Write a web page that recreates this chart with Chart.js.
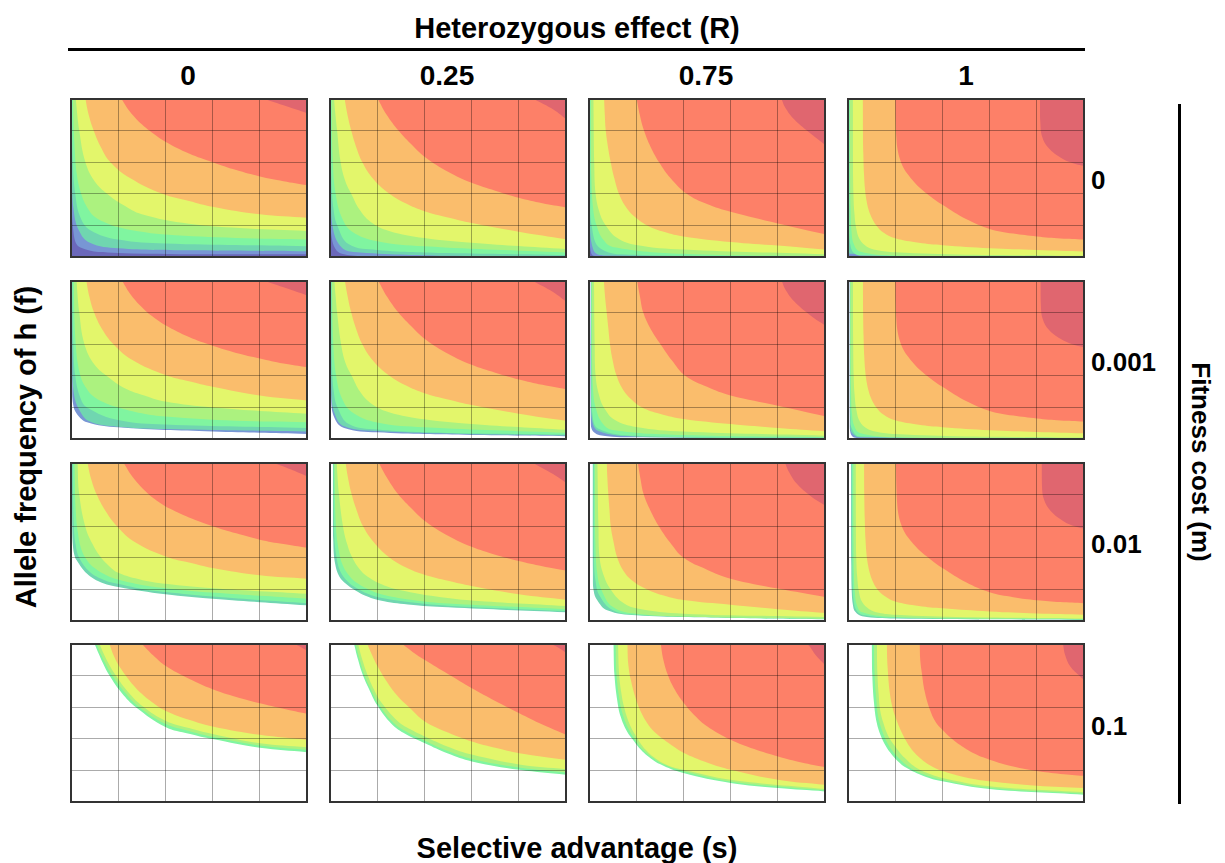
<!DOCTYPE html>
<html>
<head>
<meta charset="utf-8">
<script src="https://cdn.jsdelivr.net/npm/chart.js@4.4.1/dist/chart.umd.min.js"></script>
<style>
  html, body { margin: 0; padding: 0; background: #fff; }
  body { width: 1225px; height: 863px; position: relative; overflow: hidden;
         font-family: "Liberation Sans", Arial, sans-serif; font-weight: bold; color: #000; }
  .txt { position: absolute; white-space: nowrap; line-height: 1; transform: translate(-50%, -50%); }
  .rowlbl { position: absolute; font-size: 26px; white-space: nowrap; line-height: 1; transform: translateY(-50%); }
  .rule { position: absolute; background: #000; }
  canvas { position: absolute; }
</style>
</head>
<body>
<div class="txt" style="left:577px; top:28px; font-size:29px;">Heterozygous effect (R)</div>
<div class="rule" style="left:68px; top:48px; width:1017px; height:3px;"></div>
<div class="rule" style="left:1178px; top:104px; width:3px; height:700px;"></div>
<div class="txt" style="left:26px; top:447px; font-size:29px; transform: translate(-50%, -50%) rotate(-90deg);">Allele frequency of h (f)</div>
<div class="txt" style="left:1201px; top:462px; font-size:26px; transform: translate(-50%, -50%) rotate(90deg);">Fitness cost (m)</div>
<div class="txt" style="left:577px; top:848px; font-size:29px;">Selective advantage (s)</div>
<script>
// column / row labels
const R_LABELS = ["0", "0.25", "0.75", "1"];
const M_LABELS = ["0", "0.001", "0.01", "0.1"];
const GRID_TICKS = [0, 0.2, 0.4, 0.6, 0.8, 1];

// band colours, innermost (top right) to outermost
const BAND_COLORS = ["#e0666f", "#fd8068", "#fabd6c", "#e3f66b", "#acf27f", "#80f5a0", "#70d6b0", "#7896d4", "#6b68ba"];

// lower boundary of each band, [s, f] points
// m = 0
const m0_R0 = [
  [[0.82, 1], [0.91, 0.955], [1, 0.91]],
  [[0.214, 1], [0.25, 0.92], [0.3, 0.84], [0.35, 0.78], [0.4, 0.73], [0.5, 0.655], [0.6, 0.6], [0.7, 0.55], [0.8, 0.51], [0.9, 0.48], [1, 0.455]],
  [[0.061, 1], [0.075, 0.9], [0.096, 0.8], [0.125, 0.7], [0.167, 0.6], [0.25, 0.5], [0.387, 0.4], [0.5, 0.355], [0.6, 0.318], [0.8, 0.27], [1, 0.248]],
  [[0.02, 1], [0.035, 0.8], [0.061, 0.6], [0.1, 0.48], [0.153, 0.4], [0.22, 0.33], [0.3, 0.27], [0.5, 0.21], [0.75, 0.18], [1, 0.165]],
  [[0.008, 1], [0.015, 0.7], [0.025, 0.52], [0.043, 0.4], [0.07, 0.31], [0.1, 0.255], [0.15, 0.215], [0.196, 0.19], [0.3, 0.16], [0.4, 0.142], [0.7, 0.12], [1, 0.11]],
  [[0.003, 1], [0.008, 0.6], [0.018, 0.4], [0.04, 0.25], [0.082, 0.17], [0.2, 0.11], [0.4, 0.085], [1, 0.068]],
  [[0.001, 1], [0.004, 0.5], [0.011, 0.3], [0.033, 0.17], [0.08, 0.09], [0.2, 0.055], [0.5, 0.042], [1, 0.036]],
  [[0.0005, 1], [0.002, 0.5], [0.011, 0.15], [0.04, 0.06], [0.2, 0.026], [1, 0.017]],
  [[0, 0], [1, 0]]
];
const m0_R025 = [
  [[0.863, 1], [0.948, 0.932], [1, 0.873]],
  [[0.203, 1], [0.24, 0.9], [0.29, 0.8], [0.34, 0.72], [0.405, 0.63], [0.5, 0.54], [0.6, 0.47], [0.7, 0.42], [0.8, 0.375], [0.9, 0.34], [1, 0.314]],
  [[0.062, 1], [0.074, 0.9], [0.09, 0.8], [0.11, 0.7], [0.137, 0.6], [0.18, 0.5], [0.243, 0.41], [0.32, 0.34], [0.4, 0.29], [0.5, 0.25], [0.6, 0.215], [0.8, 0.16], [1, 0.112]],
  [[0.017, 1], [0.023, 0.9], [0.03, 0.8], [0.045, 0.6], [0.065, 0.48], [0.09, 0.4], [0.125, 0.3], [0.17, 0.225], [0.25, 0.165], [0.4, 0.12], [0.6, 0.09], [1, 0.05]],
  [[0.006, 1], [0.012, 0.6], [0.024, 0.4], [0.05, 0.25], [0.094, 0.16], [0.2, 0.1], [0.4, 0.068], [1, 0.028]],
  [[0.002, 1], [0.006, 0.5], [0.015, 0.3], [0.031, 0.2], [0.08, 0.08], [0.2, 0.045], [0.5, 0.025], [1, 0.012]],
  [[0.001, 1], [0.004, 0.4], [0.014, 0.17], [0.05, 0.06], [0.1, 0.032], [0.5, 0.008], [1, 0.004]],
  [[0.0005, 1], [0.003, 0.3], [0.01, 0.1], [0.05, 0.02], [0.2, 0.006], [1, 0.002]],
  [[0, 0], [1, 0]]
];
const m0_R075 = [
  [[0.816, 1], [0.83, 0.95], [0.87, 0.87], [0.94, 0.78], [1, 0.71]],
  [[0.202, 1], [0.215, 0.9], [0.233, 0.8], [0.26, 0.7], [0.297, 0.6], [0.345, 0.5], [0.414, 0.4], [0.5, 0.335], [0.6, 0.286], [0.8, 0.212], [1, 0.144]],
  [[0.064, 1], [0.067, 0.9], [0.071, 0.8], [0.08, 0.7], [0.092, 0.6], [0.107, 0.5], [0.127, 0.4], [0.155, 0.32], [0.19, 0.26], [0.247, 0.2], [0.32, 0.158], [0.4, 0.13], [0.6, 0.095], [0.8, 0.072], [1, 0.047]],
  [[0.018, 1], [0.022, 0.6], [0.028, 0.4], [0.045, 0.28], [0.071, 0.2], [0.12, 0.12], [0.2, 0.076], [0.4, 0.047], [1, 0.017]],
  [[0.007, 1], [0.01, 0.5], [0.018, 0.3], [0.032, 0.2], [0.06, 0.11], [0.1, 0.064], [0.4, 0.02], [1, 0.004]],
  [[0.003, 1], [0.006, 0.4], [0.011, 0.2], [0.05, 0.053], [0.2, 0.015], [1, 0.002]],
  [[0.001, 1], [0.003, 0.3], [0.02, 0.04], [0.1, 0.01], [1, 0.001]],
  [[0.0005, 1], [0.002, 0.2], [0.01, 0.02], [0.05, 0.006], [1, 0.0005]],
  [[0, 0], [1, 0]]
];
const m0_R1 = [
  [[0.813, 1], [0.815, 0.85], [0.823, 0.76], [0.85, 0.69], [0.9, 0.63], [0.95, 0.595], [1, 0.576]],
  [[0.2, 1], [0.202, 0.85], [0.205, 0.75], [0.21, 0.68], [0.22, 0.62], [0.235, 0.565], [0.255, 0.52], [0.28, 0.475], [0.31, 0.43], [0.348, 0.385], [0.4, 0.33], [0.5, 0.24], [0.6, 0.178], [0.7, 0.148], [0.8, 0.13], [0.9, 0.117], [1, 0.11]],
  [[0.062, 1], [0.063, 0.8], [0.065, 0.65], [0.068, 0.52], [0.072, 0.43], [0.078, 0.36], [0.087, 0.3], [0.1, 0.25], [0.12, 0.2], [0.15, 0.155], [0.2, 0.118], [0.3, 0.09], [0.4, 0.075], [0.6, 0.056], [0.8, 0.045], [1, 0.035]],
  [[0.02, 1], [0.021, 0.6], [0.023, 0.4], [0.027, 0.28], [0.035, 0.18], [0.05, 0.11], [0.08, 0.065], [0.12, 0.045], [0.2, 0.03], [0.5, 0.015], [1, 0.008]],
  [[0.008, 1], [0.009, 0.5], [0.011, 0.3], [0.015, 0.16], [0.025, 0.08], [0.05, 0.035], [0.2, 0.01], [1, 0.002]],
  [[0.003, 1], [0.005, 0.3], [0.012, 0.06], [0.05, 0.01], [1, 0.001]],
  [[0.001, 1], [0.002, 0.2], [0.008, 0.02], [1, 0.0005]],
  [[0.0005, 1], [0.001, 0.1], [0.005, 0.008], [1, 0.0002]],
  [[0, 0], [1, 0]]
];
// m = 0.001
const m0001_R0 = [
  [[0.822, 1], [0.91, 0.955], [1, 0.909]],
  [[0.217, 1], [0.255, 0.91], [0.31, 0.82], [0.36, 0.76], [0.4, 0.72], [0.5, 0.645], [0.6, 0.59], [0.7, 0.545], [0.8, 0.51], [0.9, 0.478], [1, 0.455]],
  [[0.065, 1], [0.078, 0.9], [0.098, 0.8], [0.13, 0.7], [0.18, 0.6], [0.26, 0.5], [0.4, 0.405], [0.5, 0.365], [0.6, 0.33], [0.8, 0.275], [1, 0.243]],
  [[0.023, 1], [0.035, 0.8], [0.057, 0.6], [0.1, 0.47], [0.16, 0.39], [0.23, 0.32], [0.3, 0.28], [0.4, 0.237], [0.6, 0.2], [1, 0.16]],
  [[0.011, 1], [0.02, 0.6], [0.04, 0.4], [0.07, 0.31], [0.1, 0.265], [0.15, 0.225], [0.2, 0.2], [0.3, 0.163], [0.4, 0.142], [0.7, 0.115], [1, 0.106]],
  [[0.005, 1], [0.01, 0.6], [0.018, 0.4], [0.04, 0.26], [0.068, 0.2], [0.2, 0.12], [0.4, 0.092], [1, 0.07]],
  [[0.004, 1], [0.006, 0.5], [0.011, 0.3], [0.033, 0.19], [0.08, 0.11], [0.2, 0.078], [0.4, 0.063], [1, 0.047]],
  [[0.003, 1], [0.005, 0.35], [0.009, 0.22], [0.025, 0.159], [0.068, 0.106], [0.2, 0.074], [0.6, 0.047], [1, 0.032]]
];
const m0001_R025 = [
  [[0.86, 1], [0.945, 0.93], [1, 0.87]],
  [[0.205, 1], [0.242, 0.9], [0.29, 0.8], [0.34, 0.72], [0.405, 0.63], [0.5, 0.54], [0.6, 0.47], [0.7, 0.42], [0.8, 0.377], [0.9, 0.343], [1, 0.315]],
  [[0.063, 1], [0.075, 0.9], [0.09, 0.8], [0.11, 0.7], [0.137, 0.6], [0.18, 0.5], [0.243, 0.41], [0.32, 0.34], [0.4, 0.29], [0.5, 0.25], [0.6, 0.215], [0.8, 0.16], [1, 0.115]],
  [[0.018, 1], [0.024, 0.9], [0.03, 0.8], [0.047, 0.6], [0.066, 0.48], [0.092, 0.4], [0.127, 0.3], [0.17, 0.23], [0.25, 0.17], [0.4, 0.125], [0.6, 0.095], [1, 0.058]],
  [[0.008, 1], [0.014, 0.6], [0.026, 0.4], [0.05, 0.26], [0.094, 0.17], [0.2, 0.105], [0.4, 0.075], [1, 0.04]],
  [[0.005, 1], [0.008, 0.5], [0.016, 0.3], [0.032, 0.2], [0.08, 0.095], [0.2, 0.06], [0.5, 0.038], [1, 0.028]],
  [[0.004, 1], [0.006, 0.3], [0.02, 0.16], [0.06, 0.08], [0.2, 0.05], [0.6, 0.03], [1, 0.022]],
  [[0.003, 1], [0.005, 0.25], [0.02, 0.13], [0.06, 0.07], [0.2, 0.042], [0.6, 0.025], [1, 0.018]]
];
const m0001_R075 = [
  [[0.817, 1], [0.831, 0.95], [0.87, 0.87], [0.94, 0.78], [1, 0.719]],
  [[0.204, 1], [0.216, 0.9], [0.23, 0.8], [0.26, 0.7], [0.303, 0.6], [0.35, 0.5], [0.408, 0.4], [0.5, 0.33], [0.6, 0.275], [0.8, 0.211], [1, 0.144]],
  [[0.063, 1], [0.068, 0.9], [0.075, 0.8], [0.082, 0.7], [0.089, 0.6], [0.1, 0.5], [0.117, 0.4], [0.145, 0.31], [0.18, 0.25], [0.225, 0.2], [0.3, 0.16], [0.4, 0.127], [0.6, 0.095], [0.8, 0.07], [1, 0.049]],
  [[0.021, 1], [0.024, 0.6], [0.028, 0.4], [0.042, 0.28], [0.063, 0.2], [0.11, 0.12], [0.2, 0.076], [0.4, 0.047], [1, 0.021]],
  [[0.011, 1], [0.013, 0.5], [0.018, 0.3], [0.028, 0.2], [0.057, 0.1], [0.1, 0.057], [0.4, 0.025], [1, 0.011]],
  [[0.009, 1], [0.01, 0.4], [0.015, 0.15], [0.04, 0.065], [0.2, 0.02], [1, 0.008]],
  [[0.008, 1], [0.009, 0.3], [0.013, 0.12], [0.04, 0.05], [0.2, 0.015], [1, 0.006]],
  [[0.006, 1], [0.007, 0.116], [0.021, 0.042], [0.077, 0.017], [0.2, 0.011], [1, 0.004]]
];
const m0001_R1 = [
  [[0.815, 1], [0.817, 0.85], [0.825, 0.76], [0.852, 0.69], [0.9, 0.635], [0.95, 0.6], [1, 0.58]],
  [[0.2, 1], [0.202, 0.85], [0.205, 0.75], [0.21, 0.68], [0.22, 0.62], [0.235, 0.565], [0.255, 0.52], [0.28, 0.475], [0.31, 0.43], [0.348, 0.385], [0.4, 0.33], [0.5, 0.24], [0.6, 0.178], [0.7, 0.148], [0.8, 0.13], [0.9, 0.117], [1, 0.11]],
  [[0.063, 1], [0.064, 0.8], [0.066, 0.65], [0.069, 0.52], [0.073, 0.43], [0.079, 0.36], [0.088, 0.3], [0.1, 0.25], [0.12, 0.2], [0.15, 0.155], [0.2, 0.118], [0.3, 0.09], [0.4, 0.075], [0.6, 0.056], [0.8, 0.045], [1, 0.036]],
  [[0.021, 1], [0.022, 0.6], [0.024, 0.4], [0.028, 0.28], [0.036, 0.18], [0.05, 0.11], [0.08, 0.066], [0.12, 0.046], [0.2, 0.031], [0.5, 0.016], [1, 0.009]],
  [[0.01, 1], [0.011, 0.5], [0.013, 0.3], [0.017, 0.16], [0.027, 0.08], [0.05, 0.038], [0.2, 0.011], [1, 0.004]],
  [[0.008, 1], [0.009, 0.3], [0.011, 0.14], [0.015, 0.07], [0.05, 0.016], [1, 0.003]],
  [[0.007, 1], [0.008, 0.2], [0.01, 0.1], [0.014, 0.045], [0.05, 0.011], [1, 0.002]],
  [[0.006, 1], [0.007, 0.12], [0.009, 0.05], [0.02, 0.015], [0.05, 0.007], [1, 0.001]]
];
// m = 0.01
const m001_R0 = [
  [[0.861, 1], [0.93, 0.96], [1, 0.916]],
  [[0.223, 1], [0.262, 0.91], [0.32, 0.815], [0.37, 0.755], [0.42, 0.71], [0.5, 0.655], [0.6, 0.6], [0.7, 0.555], [0.8, 0.515], [0.9, 0.487], [1, 0.464]],
  [[0.07, 1], [0.085, 0.9], [0.109, 0.8], [0.145, 0.7], [0.195, 0.6], [0.27, 0.5], [0.407, 0.405], [0.5, 0.37], [0.6, 0.335], [0.8, 0.289], [1, 0.268]],
  [[0.027, 1], [0.035, 0.8], [0.06, 0.6], [0.09, 0.49], [0.123, 0.41], [0.16, 0.35], [0.2, 0.305], [0.3, 0.26], [0.4, 0.236], [0.6, 0.208], [1, 0.173]],
  [[0.014, 1], [0.02, 0.7], [0.03, 0.55], [0.045, 0.45], [0.07, 0.38], [0.1, 0.335], [0.15, 0.29], [0.2, 0.262], [0.3, 0.228], [0.4, 0.208], [0.6, 0.18], [1, 0.141]],
  [[0.007, 1], [0.012, 0.6], [0.02, 0.48], [0.035, 0.4], [0.08, 0.31], [0.14, 0.26], [0.2, 0.235], [0.3, 0.203], [0.4, 0.184], [0.6, 0.155], [1, 0.112]],
  [[0.004, 1], [0.005, 0.6], [0.008, 0.48], [0.014, 0.42], [0.024, 0.384], [0.067, 0.3], [0.123, 0.247], [0.2, 0.215], [0.4, 0.169], [0.6, 0.141], [1, 0.099]]
];
const m001_R025 = [
  [[0.86, 1], [0.945, 0.93], [1, 0.875]],
  [[0.207, 1], [0.244, 0.9], [0.29, 0.8], [0.34, 0.72], [0.405, 0.63], [0.5, 0.54], [0.6, 0.47], [0.7, 0.42], [0.8, 0.38], [0.9, 0.347], [1, 0.32]],
  [[0.066, 1], [0.077, 0.9], [0.092, 0.8], [0.113, 0.7], [0.14, 0.6], [0.185, 0.5], [0.245, 0.41], [0.32, 0.34], [0.4, 0.293], [0.5, 0.255], [0.6, 0.222], [0.8, 0.17], [1, 0.135]],
  [[0.028, 1], [0.038, 0.8], [0.055, 0.6], [0.072, 0.49], [0.095, 0.4], [0.13, 0.32], [0.17, 0.27], [0.23, 0.225], [0.3, 0.195], [0.45, 0.155], [0.6, 0.13], [1, 0.095]],
  [[0.018, 1], [0.025, 0.6], [0.038, 0.44], [0.055, 0.35], [0.085, 0.28], [0.12, 0.235], [0.17, 0.195], [0.23, 0.165], [0.35, 0.133], [0.5, 0.11], [1, 0.075]],
  [[0.014, 1], [0.018, 0.55], [0.028, 0.4], [0.045, 0.31], [0.075, 0.25], [0.11, 0.21], [0.16, 0.172], [0.22, 0.145], [0.35, 0.117], [0.5, 0.097], [1, 0.063]],
  [[0.012, 1], [0.014, 0.5], [0.022, 0.36], [0.04, 0.28], [0.07, 0.232], [0.106, 0.194], [0.15, 0.16], [0.213, 0.13], [0.33, 0.105], [0.5, 0.087], [1, 0.055]]
];
const m001_R075 = [
  [[0.831, 1], [0.845, 0.95], [0.88, 0.87], [0.94, 0.79], [1, 0.732]],
  [[0.207, 1], [0.218, 0.9], [0.232, 0.8], [0.26, 0.7], [0.296, 0.6], [0.342, 0.5], [0.401, 0.4], [0.5, 0.325], [0.6, 0.268], [0.8, 0.205], [1, 0.152]],
  [[0.075, 1], [0.078, 0.9], [0.082, 0.8], [0.087, 0.7], [0.092, 0.6], [0.104, 0.5], [0.12, 0.4], [0.145, 0.32], [0.18, 0.26], [0.246, 0.2], [0.32, 0.16], [0.4, 0.133], [0.6, 0.103], [0.8, 0.075], [1, 0.051]],
  [[0.035, 1], [0.04, 0.6], [0.045, 0.4], [0.062, 0.29], [0.092, 0.2], [0.14, 0.12], [0.2, 0.08], [0.4, 0.046], [1, 0.025]],
  [[0.024, 1], [0.027, 0.5], [0.035, 0.3], [0.052, 0.2], [0.1, 0.09], [0.2, 0.046], [0.5, 0.025], [1, 0.015]],
  [[0.019, 1], [0.021, 0.4], [0.028, 0.25], [0.045, 0.16], [0.1, 0.07], [0.2, 0.04], [0.6, 0.021], [1, 0.013]],
  [[0.015, 1], [0.016, 0.3], [0.02, 0.19], [0.035, 0.131], [0.077, 0.068], [0.2, 0.036], [0.6, 0.019], [1, 0.011]]
];
const m001_R1 = [
  [[0.82, 1], [0.822, 0.85], [0.83, 0.77], [0.857, 0.7], [0.905, 0.64], [0.95, 0.605], [1, 0.585]],
  [[0.203, 1], [0.205, 0.85], [0.208, 0.75], [0.213, 0.68], [0.223, 0.62], [0.238, 0.567], [0.258, 0.522], [0.283, 0.478], [0.313, 0.433], [0.35, 0.39], [0.4, 0.335], [0.5, 0.245], [0.6, 0.182], [0.7, 0.151], [0.8, 0.132], [0.9, 0.12], [1, 0.112]],
  [[0.068, 1], [0.069, 0.8], [0.071, 0.65], [0.074, 0.52], [0.078, 0.43], [0.084, 0.36], [0.093, 0.3], [0.105, 0.25], [0.125, 0.2], [0.155, 0.158], [0.2, 0.123], [0.3, 0.095], [0.4, 0.08], [0.6, 0.06], [0.8, 0.048], [1, 0.04]],
  [[0.032, 1], [0.033, 0.6], [0.035, 0.4], [0.039, 0.28], [0.047, 0.18], [0.06, 0.12], [0.09, 0.075], [0.13, 0.053], [0.2, 0.04], [0.5, 0.024], [1, 0.016]],
  [[0.022, 1], [0.023, 0.5], [0.025, 0.3], [0.029, 0.18], [0.038, 0.1], [0.06, 0.055], [0.2, 0.025], [1, 0.011]],
  [[0.017, 1], [0.018, 0.4], [0.02, 0.22], [0.025, 0.12], [0.035, 0.07], [0.06, 0.04], [0.2, 0.02], [1, 0.009]],
  [[0.013, 1], [0.014, 0.35], [0.016, 0.18], [0.021, 0.1], [0.03, 0.06], [0.06, 0.03], [0.2, 0.016], [1, 0.007]]
];
// m = 0.1
const m01_R0 = [
  [[0.946, 1], [0.975, 0.98], [1, 0.958]],
  [[0.301, 1], [0.35, 0.925], [0.4, 0.862], [0.5, 0.78], [0.6, 0.714], [0.7, 0.665], [0.8, 0.625], [0.9, 0.59], [1, 0.558]],
  [[0.163, 1], [0.18, 0.93], [0.2, 0.87], [0.25, 0.765], [0.3, 0.685], [0.35, 0.625], [0.4, 0.578], [0.5, 0.52], [0.6, 0.478], [0.8, 0.425], [1, 0.394]],
  [[0.121, 1], [0.138, 0.94], [0.158, 0.88], [0.19, 0.8], [0.24, 0.7], [0.305, 0.605], [0.4, 0.515], [0.5, 0.468], [0.6, 0.43], [0.8, 0.372], [1, 0.347]],
  [[0.108, 1], [0.125, 0.94], [0.145, 0.88], [0.175, 0.8], [0.225, 0.7], [0.29, 0.6], [0.4, 0.495], [0.5, 0.45], [0.6, 0.413], [0.8, 0.358], [1, 0.33]],
  [[0.1, 1], [0.117, 0.94], [0.135, 0.88], [0.163, 0.8], [0.215, 0.69], [0.275, 0.6], [0.4, 0.475], [0.5, 0.432], [0.6, 0.398], [0.8, 0.343], [1, 0.315]]
];
const m01_R025 = [
  [[0.936, 1], [0.97, 0.975], [1, 0.945]],
  [[0.307, 1], [0.35, 0.95], [0.402, 0.899], [0.5, 0.81], [0.601, 0.72], [0.7, 0.64], [0.802, 0.562], [0.9, 0.49], [1, 0.425]],
  [[0.158, 1], [0.178, 0.93], [0.201, 0.86], [0.25, 0.74], [0.29, 0.665], [0.335, 0.6], [0.402, 0.51], [0.5, 0.44], [0.601, 0.383], [0.7, 0.343], [0.802, 0.309], [1, 0.267]],
  [[0.119, 1], [0.137, 0.9], [0.16, 0.8], [0.19, 0.7], [0.22, 0.625], [0.285, 0.515], [0.34, 0.46], [0.402, 0.415], [0.5, 0.35], [0.601, 0.3], [0.802, 0.238], [1, 0.208]],
  [[0.108, 1], [0.126, 0.9], [0.147, 0.8], [0.177, 0.7], [0.208, 0.615], [0.27, 0.5], [0.33, 0.44], [0.402, 0.388], [0.5, 0.322], [0.601, 0.272], [0.802, 0.218], [1, 0.187]],
  [[0.102, 1], [0.119, 0.9], [0.14, 0.8], [0.17, 0.7], [0.201, 0.61], [0.26, 0.495], [0.32, 0.43], [0.402, 0.372], [0.5, 0.307], [0.601, 0.257], [0.802, 0.204], [1, 0.173]]
];
const m01_R075 = [
  [[0.925, 1], [0.94, 0.975], [0.96, 0.93], [1, 0.867]],
  [[0.304, 1], [0.315, 0.9], [0.335, 0.8], [0.36, 0.72], [0.4, 0.63], [0.45, 0.545], [0.5, 0.48], [0.6, 0.394], [0.7, 0.335], [0.801, 0.288], [0.9, 0.25], [1, 0.221]],
  [[0.162, 1], [0.166, 0.88], [0.177, 0.773], [0.2, 0.646], [0.22, 0.57], [0.247, 0.499], [0.28, 0.44], [0.318, 0.394], [0.36, 0.35], [0.4, 0.312], [0.5, 0.25], [0.6, 0.204], [0.8, 0.141], [1, 0.109]],
  [[0.123, 1], [0.128, 0.8], [0.138, 0.68], [0.148, 0.604], [0.17, 0.5], [0.2, 0.415], [0.24, 0.33], [0.29, 0.267], [0.34, 0.228], [0.4, 0.204], [0.6, 0.141], [1, 0.082]],
  [[0.112, 1], [0.117, 0.8], [0.128, 0.66], [0.14, 0.57], [0.165, 0.47], [0.195, 0.395], [0.225, 0.335], [0.26, 0.29], [0.32, 0.235], [0.4, 0.195], [0.6, 0.13], [0.801, 0.098], [1, 0.075]],
  [[0.103, 1], [0.108, 0.8], [0.12, 0.64], [0.134, 0.541], [0.16, 0.45], [0.191, 0.385], [0.22, 0.33], [0.247, 0.293], [0.3, 0.24], [0.4, 0.183], [0.6, 0.12], [0.801, 0.088], [1, 0.067]]
];
const m01_R1 = [
  [[0.911, 1], [0.92, 0.93], [0.942, 0.857], [0.984, 0.794], [1, 0.773]],
  [[0.303, 1], [0.306, 0.9], [0.313, 0.815], [0.325, 0.7], [0.348, 0.58], [0.37, 0.51], [0.4, 0.457], [0.44, 0.4], [0.475, 0.36], [0.53, 0.31], [0.6, 0.268], [0.7, 0.225], [0.8, 0.196], [0.9, 0.178], [1, 0.166]],
  [[0.164, 1], [0.168, 0.85], [0.178, 0.68], [0.19, 0.59], [0.2, 0.541], [0.22, 0.465], [0.249, 0.38], [0.28, 0.315], [0.32, 0.26], [0.36, 0.222], [0.4, 0.196], [0.5, 0.155], [0.6, 0.131], [0.8, 0.103], [1, 0.088]],
  [[0.122, 1], [0.125, 0.8], [0.13, 0.68], [0.136, 0.583], [0.15, 0.5], [0.17, 0.42], [0.2, 0.352], [0.24, 0.28], [0.291, 0.215], [0.35, 0.175], [0.4, 0.152], [0.6, 0.099], [1, 0.061]],
  [[0.11, 1], [0.113, 0.8], [0.12, 0.65], [0.128, 0.54], [0.145, 0.45], [0.165, 0.38], [0.185, 0.33], [0.22, 0.27], [0.26, 0.22], [0.32, 0.175], [0.4, 0.14], [0.6, 0.09], [1, 0.053]],
  [[0.1, 1], [0.103, 0.8], [0.11, 0.63], [0.122, 0.5], [0.14, 0.415], [0.16, 0.355], [0.178, 0.315], [0.21, 0.26], [0.249, 0.215], [0.32, 0.165], [0.4, 0.131], [0.6, 0.082], [1, 0.046]]
];

const PANELS = [
  [m0_R0, m0_R025, m0_R075, m0_R1],
  [m0001_R0, m0001_R025, m0001_R075, m0001_R1],
  [m001_R0, m001_R025, m001_R075, m001_R1],
  [m01_R0, m01_R025, m01_R075, m01_R1]
];

// page layout
const PANEL_LEFT = [71, 330, 589, 848];
const PANEL_TOP = [99, 281, 463, 644];
const PANEL_W = 236, PANEL_H = 158, PAD = 4;
const COL_CENTER = [188, 447, 706, 966];
const ROW_CENTER = [180, 362, 544, 726];

R_LABELS.forEach((t, c) => {
  const d = document.createElement("div");
  d.className = "txt";
  d.textContent = t;
  d.style.fontSize = "28px";
  d.style.left = COL_CENTER[c] + "px";
  d.style.top = "76px";
  document.body.appendChild(d);
});
M_LABELS.forEach((t, r) => {
  const d = document.createElement("div");
  d.className = "rowlbl";
  d.textContent = t;
  d.style.left = "1091px";
  d.style.top = ROW_CENTER[r] + "px";
  document.body.appendChild(d);
});

const framePlugin = {
  id: "frame",
  afterDraw(chart) {
    const { ctx, chartArea: a } = chart;
    ctx.save();
    ctx.strokeStyle = "#333";
    ctx.lineWidth = 2;
    ctx.strokeRect(a.left, a.top, a.right - a.left, a.bottom - a.top);
    ctx.restore();
  }
};

const axis = {
  type: "linear",
  min: GRID_TICKS[0],
  max: GRID_TICKS[GRID_TICKS.length - 1],
  ticks: { display: false, stepSize: GRID_TICKS[1] - GRID_TICKS[0] },
  grid: { color: "rgba(0,0,0,0.33)", lineWidth: 1, drawTicks: false, z: 1 },
  border: { display: false }
};

PANELS.forEach((row, r) => row.forEach((curves, c) => {
  const canvas = document.createElement("canvas");
  canvas.width = PANEL_W + 2 * PAD;
  canvas.height = PANEL_H + 2 * PAD;
  canvas.style.left = (PANEL_LEFT[c] - PAD) + "px";
  canvas.style.top = (PANEL_TOP[r] - PAD) + "px";
  document.body.appendChild(canvas);

  new Chart(canvas, {
    type: "line",
    data: {
      datasets: curves.map((pts, k) => ({
        data: pts,
        fill: "end",
        backgroundColor: BAND_COLORS[k],
        borderWidth: 0,
        pointRadius: 0,
        tension: 0.4
      }))
    },
    options: {
      responsive: false,
      animation: false,
      events: [],
      layout: { padding: PAD },
      plugins: { legend: { display: false }, tooltip: { enabled: false } },
      scales: { x: axis, y: axis }
    },
    plugins: [framePlugin]
  });
}));
</script>
</body>
</html>
